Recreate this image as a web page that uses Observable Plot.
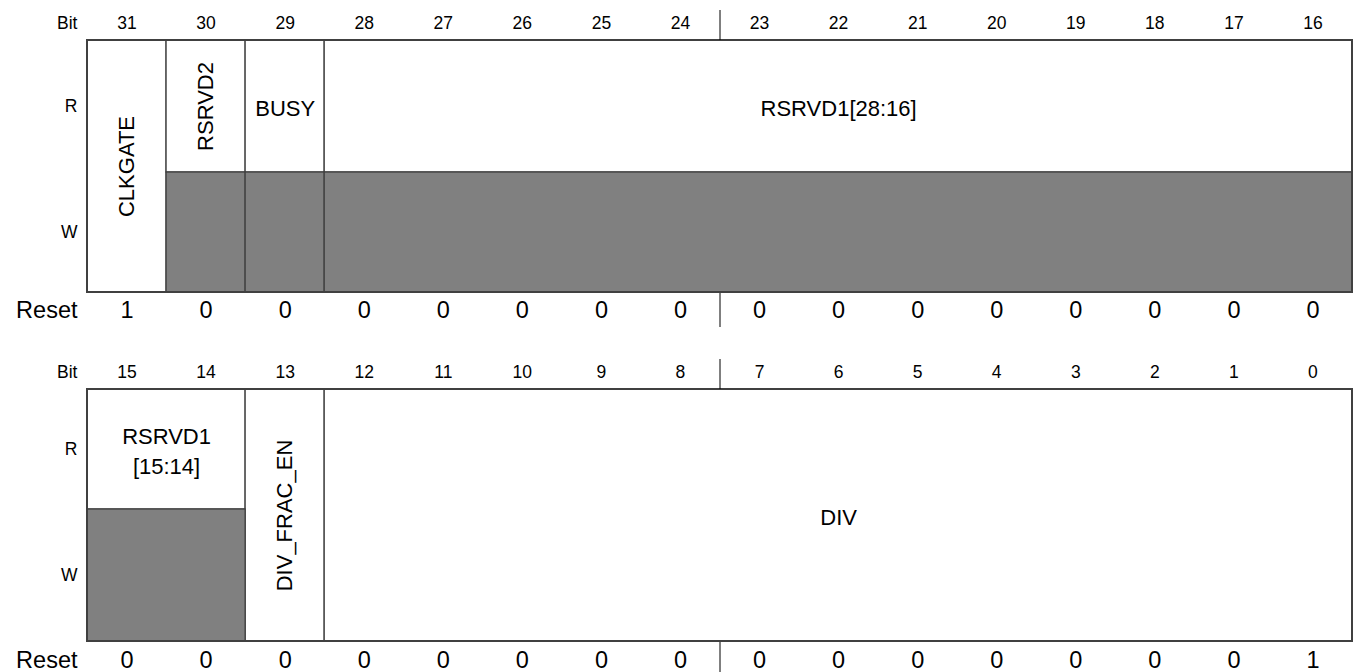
<!DOCTYPE html>
<html><head><meta charset="utf-8">
<script src="https://cdn.jsdelivr.net/npm/d3@7"></script>
<script src="https://cdn.jsdelivr.net/npm/@observablehq/plot@0.6"></script>
<style>html,body{margin:0;padding:0;background:#fff} svg{display:block}</style>
</head><body><div id="chart"></div>
<script>
// ---- data ----
const fieldNames  = ["CLKGATE", "RSRVD2", "BUSY", "RSRVD1[28:16]", "RSRVD1\n[15:14]", "DIV_FRAC_EN", "DIV"];
const fieldMsb    = [31, 30, 29, 28, 15, 13, 12];
const fieldLsb    = [31, 30, 29, 16, 14, 13, 0];
const fieldAccess = ["RW", "RO", "RO", "RO", "RO", "RW", "RW"];
const bitNumbers  = [31,30,29,28,27,26,25,24,23,22,21,20,19,18,17,16,15,14,13,12,11,10,9,8,7,6,5,4,3,2,1,0];
const resetValues = [1,0,0,0,0,0,0,0, 0,0,0,0,0,0,0,0, 0,0,0,0,0,0,0,0, 0,0,0,0,0,0,0,1]; // bits 31..0
const rowLabels   = ["Bit", "R", "W", "Reset"];

// ---- layout (pixel units on the y scale) ----
const rows = [
  {hi: 31, bitY: 23,  top: 40,  split: 172, bottom: 292, resetY: 310},
  {hi: 15, bitY: 372, top: 389, split: 509, bottom: 641, resetY: 660}
];
const GRAY = "#808080", LINE = "#404040";
const SMALL = 17.5, FIELD = 22, RESET = 23.5;

const whiteRects = [], grayRects = [], labels = [], frames = [], dividers = [], sideLabels = [];
const bits = [];
rows.forEach(r => {
  const lo = r.hi - 15;
  fieldNames.forEach((name, i) => {
    const msb = Math.min(fieldMsb[i], r.hi), lsb = Math.max(fieldLsb[i], lo);
    if (msb < lsb) return;
    const x1 = r.hi - msb, x2 = r.hi - lsb + 1;
    const ro = fieldAccess[i] === "RO";
    if (ro) {
      whiteRects.push({x1, x2, y1: r.top, y2: r.split});
      grayRects.push({x1, x2, y1: r.split, y2: r.bottom});
    } else {
      whiteRects.push({x1, x2, y1: r.top, y2: r.bottom});
    }
    const vertical = (fieldMsb[i] === fieldLsb[i]) && name.length > 4;
    labels.push({name, x: (x1 + x2) / 2, y: ro ? (r.top + r.split) / 2 : (r.top + r.bottom) / 2, rotate: vertical ? -90 : 0});
  });
  frames.push({x1: 0, x2: 16, y1: r.top, y2: r.bottom});
  bitNumbers.forEach((b, k) => {
    if (b > r.hi || b < lo) return;
    bits.push({b, reset: resetValues[k], x: r.hi - b + 0.5, bitY: r.bitY, resetY: r.resetY});
  });
  dividers.push({y1: r.top - 30, y2: r.top});
  dividers.push({y1: r.bottom + 1, y2: r.bottom + 35});
  sideLabels.push({t: rowLabels[0], y: r.bitY, big: false});
  sideLabels.push({t: rowLabels[1], y: (r.top + r.split) / 2, big: false});
  sideLabels.push({t: rowLabels[2], y: (r.split + r.bottom) / 2, big: false});
  sideLabels.push({t: rowLabels[3], y: r.resetY, big: true});
});

const font = "'Liberation Sans', Arial, Helvetica, sans-serif";
const chart = Plot.plot({
  width: 1353,
  height: 672,
  margin: 0,
  style: {fontFamily: font, background: "#fff"},
  x: {domain: [0, 16], range: [87, 1352], axis: null},
  y: {domain: [0, 672], range: [0, 672], axis: null},
  marks: [
    Plot.rect(whiteRects, {x1: "x1", x2: "x2", y1: "y1", y2: "y2", fill: "white", stroke: LINE, strokeWidth: 1.3}),
    Plot.rect(grayRects, {x1: "x1", x2: "x2", y1: "y1", y2: "y2", fill: GRAY, stroke: LINE, strokeWidth: 1.3}),
    Plot.rect(frames, {x1: "x1", x2: "x2", y1: "y1", y2: "y2", fill: "none", stroke: LINE, strokeWidth: 2}),
    Plot.ruleX(dividers, {x: 8, y1: "y1", y2: "y2", stroke: "#000", strokeWidth: 1}),
    Plot.text(labels.filter(d => d.rotate === 0), {x: "x", y: "y", text: "name", fontSize: FIELD, fill: "#000", lineHeight: 1.36}),
    Plot.text(labels.filter(d => d.rotate !== 0), {x: "x", y: "y", text: "name", fontSize: FIELD, fill: "#000", rotate: -90}),
    Plot.text(bits, {x: "x", y: "bitY", text: d => String(d.b), fontSize: SMALL, fill: "#000"}),
    Plot.text(bits, {x: "x", y: "resetY", text: d => String(d.reset), fontSize: RESET, fill: "#000"}),
    Plot.text(sideLabels.filter(d => !d.big), {x: 0, dx: -10, y: "y", text: "t", textAnchor: "end", fontSize: SMALL, fill: "#000"}),
    Plot.text(sideLabels.filter(d => d.big), {x: 0, dx: -10, y: "y", text: "t", textAnchor: "end", fontSize: RESET, fill: "#000"})
  ]
});
document.getElementById("chart").append(chart);
</script>
</body></html>
